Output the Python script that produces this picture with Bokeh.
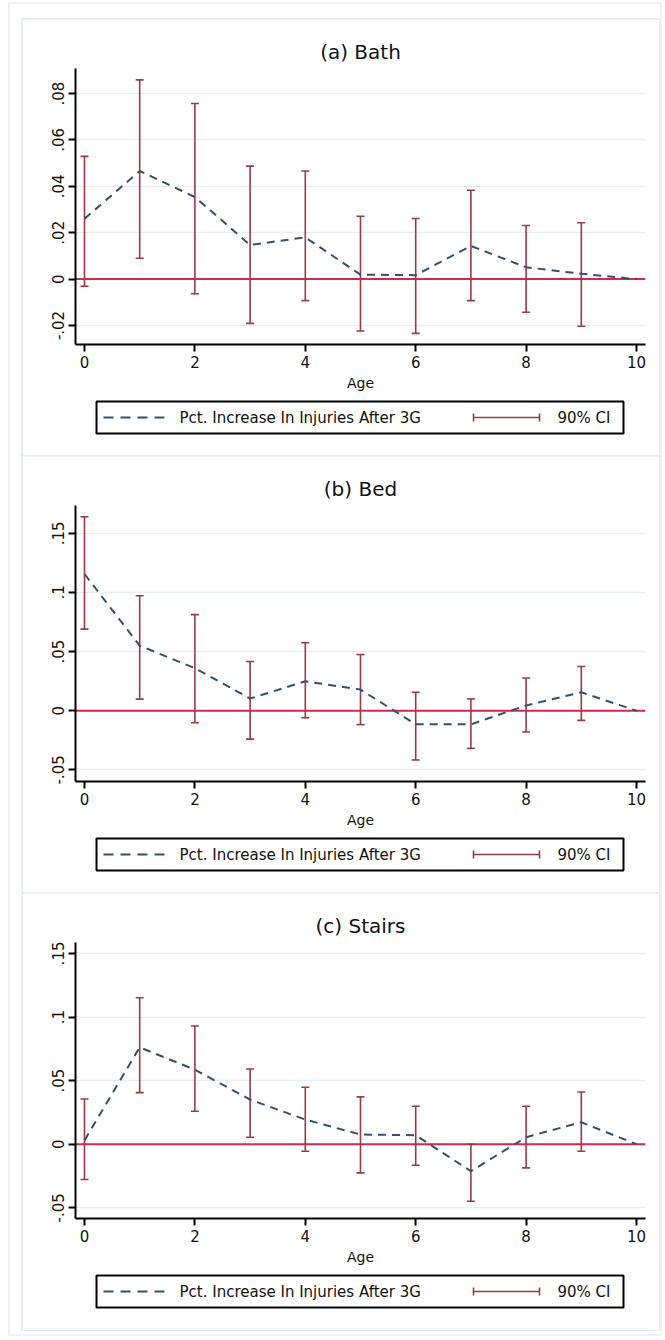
import numpy as np
from bokeh.plotting import figure
from bokeh.layouts import column
from bokeh.models import Range1d, FixedTicker, Span, ColumnDataSource
from bokeh.core.properties import value
from bokeh.embed import file_html
from bokeh.resources import INLINE

nan = float("nan")

# ---------------- data ----------------
ages = [0, 1, 2, 3, 4, 5, 6, 7, 8, 9, 10]
x_ticks = [0, 2, 4, 6, 8, 10]

bath_est = [0.026, 0.0466, 0.0354, 0.0147, 0.018, 0.0019, 0.0017, 0.0143, 0.0051, 0.0023, 0.0]
bath_lo = [-0.0031, 0.009, -0.0063, -0.0191, -0.0093, -0.0224, -0.0234, -0.0093, -0.0143, -0.0203, nan]
bath_hi = [0.0529, 0.0859, 0.0757, 0.0487, 0.0466, 0.0271, 0.0261, 0.0383, 0.0231, 0.0243, nan]
bath_yticks = [-0.02, 0.0, 0.02, 0.04, 0.06, 0.08]
bath_ylabels = ["-.02", "0", ".02", ".04", ".06", ".08"]

bed_est = [0.1156, 0.055, 0.036, 0.0103, 0.0249, 0.0179, -0.0115, -0.0115, 0.0045, 0.0156, 0.0]
bed_lo = [0.069, 0.0098, -0.0101, -0.024, -0.0059, -0.0117, -0.0416, -0.0318, -0.0179, -0.0081, nan]
bed_hi = [0.164, 0.0972, 0.0813, 0.0416, 0.0575, 0.0475, 0.0156, 0.01, 0.0277, 0.0374, nan]
bed_yticks = [-0.05, 0.0, 0.05, 0.1, 0.15]
bed_ylabels = ["-.05", "0", ".05", ".1", ".15"]

stairs_est = [0.003, 0.0762, 0.0586, 0.0351, 0.0194, 0.0076, 0.0071, -0.0212, 0.0055, 0.0173, 0.0]
stairs_lo = [-0.0277, 0.0406, 0.0259, 0.0055, -0.0055, -0.0225, -0.0165, -0.0448, -0.0186, -0.0055, nan]
stairs_hi = [0.0356, 0.1152, 0.0929, 0.0592, 0.0448, 0.0372, 0.0298, 0.0, 0.0298, 0.0411, nan]
stairs_yticks = [-0.05, 0.0, 0.05, 0.1, 0.15]
stairs_ylabels = ["-.05", "0", ".05", ".1", ".15"]

titles = ["(a) Bath", "(b) Bed", "(c) Stairs"]
y_ranges = [(-0.0282, 0.0908), (-0.0598, 0.1735), (-0.0584, 0.1586)]
legend_line_label = "Pct. Increase In Injuries After 3G"
legend_ci_label = "90% CI"
x_label = "Age"

# ---------------- style ----------------
FONT = "DejaVu Sans"
LINE_C = "#34506b"
CI_C = "#9b3a44"
ZERO_C = "#d22a4f"
GRID_C = "#e6eef1"
BORDER_C = "#e5edf0"
TEXT_C = "#111111"
PW = 637
FW, FH = 570, 276
BL, BR = 53, 14
MAIN_H = 377
LEG_H = 60


def make_main(title, est, lo, hi, yr, yticks, ylabels):
    p = figure(width=PW, height=MAIN_H, frame_width=FW, frame_height=FH,
               x_range=Range1d(-0.163, 10.163), y_range=Range1d(*yr),
               output_backend="svg", toolbar_location=None, title=title,
               min_border_left=BL, min_border_right=BR,
               min_border_top=49, min_border_bottom=52,
               background_fill_color="white", border_fill_color="white")
    p.outline_line_color = None
    p.title.align = "center"
    p.title.text_font = FONT
    p.title.text_font_size = "20px"
    p.title.text_font_style = "normal"
    p.title.text_color = TEXT_C
    p.title.standoff = 9

    p.xgrid.visible = False
    p.ygrid.ticker = FixedTicker(ticks=yticks)
    p.ygrid.grid_line_color = GRID_C
    p.ygrid.grid_line_width = 1.5

    p.xaxis.ticker = FixedTicker(ticks=x_ticks)
    p.yaxis.ticker = FixedTicker(ticks=yticks)
    p.yaxis.major_label_overrides = {float(t): l for t, l in zip(yticks, ylabels)}
    p.yaxis.major_label_orientation = "vertical"
    for ax in (p.xaxis[0], p.yaxis[0]):
        ax.axis_line_width = 2
        ax.axis_line_color = "black"
        ax.major_tick_line_width = 2
        ax.major_tick_line_color = "black"
        ax.major_tick_in = 0
        ax.major_tick_out = 7
        ax.minor_tick_in = 0
        ax.minor_tick_out = 0
        ax.major_label_text_font = FONT
        ax.major_label_text_font_size = "15px"
        ax.major_label_text_color = TEXT_C
        ax.major_label_standoff = 4
    p.xaxis.axis_label = x_label
    p.xaxis.axis_label_text_font = FONT
    p.xaxis.axis_label_text_font_size = "14px"
    p.xaxis.axis_label_text_font_style = "normal"
    p.xaxis.axis_label_text_color = TEXT_C
    p.xaxis.axis_label_standoff = 4

    p.add_layout(Span(location=0, dimension="width", line_color=ZERO_C,
                      line_width=2, level="underlay"))

    src = ColumnDataSource(dict(age=np.array(ages, dtype=float),
                                est=np.array(est, dtype=float),
                                lo=np.array(lo, dtype=float),
                                hi=np.array(hi, dtype=float)))
    p.segment(x0="age", y0="lo", x1="age", y1="hi", source=src,
              line_color=CI_C, line_width=1.6)
    p.scatter(x="age", y="lo", marker="dash", size=8, source=src,
              line_color=CI_C, line_width=1.6)
    p.scatter(x="age", y="hi", marker="dash", size=8, source=src,
              line_color=CI_C, line_width=1.6)
    p.line(x="age", y="est", source=src, line_color=LINE_C, line_width=2,
           line_dash="8 6")
    return p


def make_legend():
    # a small canvas below the axis whose coordinates are pixels (frame aligned)
    q = figure(width=PW, height=LEG_H, frame_width=FW, frame_height=LEG_H,
               x_range=Range1d(0, FW), y_range=Range1d(0, LEG_H),
               x_axis_type=None, y_axis_type=None,
               output_backend="svg", toolbar_location=None,
               min_border_left=BL, min_border_right=BR,
               min_border_top=0, min_border_bottom=0,
               background_fill_color="white", border_fill_color="white")
    q.outline_line_color = None
    q.xgrid.visible = False
    q.ygrid.visible = False
    yc = 39
    q.quad(left=[21], right=[548], top=[55], bottom=[23],
           fill_color="white", line_color="black", line_width=2)
    q.line(x=[28, 94], y=[yc, yc], line_color=LINE_C, line_width=2,
           line_dash="10 7")
    q.text(x=[104], y=[yc], text=[legend_line_label], text_baseline="middle",
           text_font=value(FONT), text_font_size=value("15px"), text_color=TEXT_C)
    q.segment(x0=[398], y0=[yc], x1=[464], y1=[yc], line_color=CI_C, line_width=1.6)
    q.segment(x0=[398, 464], y0=[yc - 4, yc - 4], x1=[398, 464], y1=[yc + 4, yc + 4],
              line_color=CI_C, line_width=1.6)
    q.text(x=[482], y=[yc], text=[legend_ci_label], text_baseline="middle",
           text_font=value(FONT), text_font_size=value("15px"), text_color=TEXT_C)
    return q


def make_panel(title, est, lo, hi, yr, yticks, ylabels):
    main = make_main(title, est, lo, hi, yr, yticks, ylabels)
    leg = make_legend()
    return column(main, leg, spacing=0,
                  styles={"outline": f"2px solid {BORDER_C}", "outline-offset": "-1px"})


c1 = make_panel(titles[0], bath_est, bath_lo, bath_hi, y_ranges[0], bath_yticks, bath_ylabels)
c2 = make_panel(titles[1], bed_est, bed_lo, bed_hi, y_ranges[1], bed_yticks, bed_ylabels)
c3 = make_panel(titles[2], stairs_est, stairs_lo, stairs_hi, y_ranges[2], stairs_yticks, stairs_ylabels)

layout = column(c1, c2, c3, spacing=0, margin=(2, 0, 0, 8),
                styles={"border": "2px solid #edf2f4",
                        "padding": "15px 1px 4px 12px",
                        "background-color": "white"})

open("out.html", "w").write(file_html(layout, INLINE))
